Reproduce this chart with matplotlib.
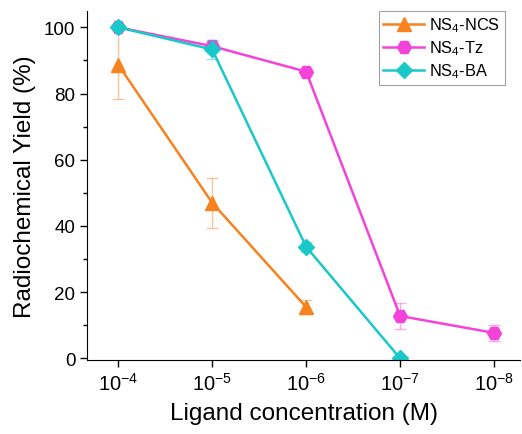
import numpy as np
import matplotlib
matplotlib.use("Agg")
import matplotlib.pyplot as plt
from matplotlib.ticker import MultipleLocator

plt.rcParams['font.family'] = ['Liberation Sans', 'DejaVu Sans']
plt.rcParams['mathtext.fontset'] = 'custom'
plt.rcParams['mathtext.rm'] = 'Liberation Sans'
plt.rcParams['mathtext.it'] = 'Liberation Sans'
plt.rcParams['mathtext.default'] = 'regular'

conc_labels = [r'$10^{-4}$', r'$10^{-5}$', r'$10^{-6}$', r'$10^{-7}$', r'$10^{-8}$']

ncs_y = [88.7, 47.0, 15.5]
ncs_err = [10.5, 7.5, 2.0]
tz_y = [100.0, 94.3, 86.6, 12.8, 7.7]
tz_err = [0.5, 1.5, 1.0, 4.0, 2.5]
ba_y = [100.0, 93.3, 33.7, 0.0]
ba_err = [0.5, 3.0, 1.5, 0.5]

c_ncs = '#F7821E'
c_tz = '#F443D8'
c_ba = '#19C8C8'

fig = plt.figure(figsize=(5.22, 4.35), dpi=100)
ax = fig.add_axes([0.167, 0.17, 0.83, 0.803])

series = [
    (ncs_y, ncs_err, c_ncs, '^', 10, r'NS$_4$-NCS'),
    (tz_y, tz_err, c_tz, 'H', 10, r'NS$_4$-Tz'),
    (ba_y, ba_err, c_ba, 'D', 8.5, r'NS$_4$-BA'),
]
for y, err, c, m, ms, lab in series:
    x = np.arange(len(y))
    ax.errorbar(x, y, yerr=err, fmt='none', ecolor=c, alpha=0.45,
                elinewidth=1, capsize=4, capthick=1)
    ax.plot(x, y, color=c, marker=m, markersize=ms, lw=1.8, label=lab)

ax.set_xlim(-0.33, 4.28)
ax.set_ylim(-0.5, 105)
ax.set_xticks(range(len(conc_labels)))
ax.set_xticklabels(conc_labels)
ax.set_yticks([0, 20, 40, 60, 80, 100])
ax.yaxis.set_minor_locator(MultipleLocator(10))
ax.tick_params(axis='both', labelsize=13.5, direction='out', length=5, width=1)
ax.tick_params(axis='x', labelsize=14.5)
ax.tick_params(axis='y', which='minor', length=3, width=1)
ax.spines['top'].set_visible(False)
ax.spines['right'].set_visible(False)
ax.set_xlabel('Ligand concentration (M)', fontsize=17.5, labelpad=6)
ax.set_ylabel('Radiochemical Yield (%)', fontsize=17.5, labelpad=6)

leg = ax.legend(loc='upper right', bbox_to_anchor=(0.965, 1.0), borderaxespad=0,
                fontsize=11.8, fancybox=False, edgecolor='#888888', handlelength=2.5,
                borderpad=0.3, labelspacing=0.25, handletextpad=0.3)
leg.get_frame().set_linewidth(0.8)

fig.savefig('out.png', dpi=100)
